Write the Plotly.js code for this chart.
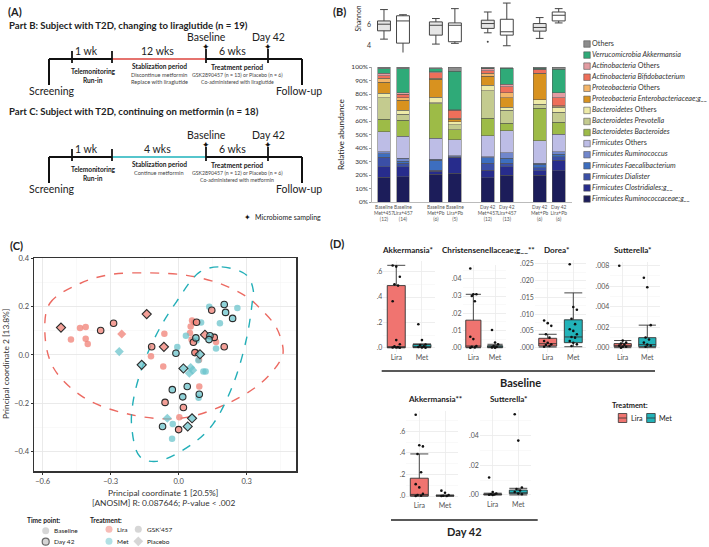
<!DOCTYPE html>
<html><head><meta charset="utf-8">
<script src="https://cdn.plot.ly/plotly-3.0.1.min.js"></script>
<style>html,body{margin:0;padding:0;background:#fff}#chart{width:709px;height:547px}</style>
</head><body><div id="chart"></div>
<script>
// ---------------- DATA ----------------
// Panel B: stacked relative abundance (%), 8 groups
const groupLabels = ["Baseline<br>Met+457<br>(12)","Baseline<br>Lira+457<br>(14)","Baseline<br>Met+Pb<br>(6)","Baseline<br>Lira+Pb<br>(5)",
                     "Day 42<br>Met+457<br>(12)","Day 42<br>Lira+457<br>(13)","Day 42<br>Met+Pb<br>(6)","Day 42<br>Lira+Pb<br>(6)"];
const ruminococcaceae = [18.3,18.7,20.7,21.3,17.8,20.0,20.0,23.2];
const clostridiales   = [7.9,7.4,1.9,11.3,5.9,6.1,3.0,7.9];
const dialister       = [7.0,2.5,1.1,0.5,5.0,2.5,2.2,2.4];
const faecalibacterium= [2.4,1.7,7.4,0.5,3.9,3.7,2.6,2.0];
const ruminococcus    = [1.7,2.0,0.7,0.5,1.0,4.1,0.9,1.7];
const firmicutesOther = [14.8,16.5,15.3,11.9,15.3,16.3,16.5,13.1];
const bacteroides     = [9.2,11.9,25.8,7.4,13.1,5.5,24.2,8.7];
const prevotella      = [16.0,4.2,0.6,4.0,20.4,9.9,3.0,7.4];
const bacteroidetesOther = [3.3,3.2,4.0,2.2,4.2,2.0,3.2,3.7];
const enterobacteriaceae = [8.1,7.4,13.3,1.7,6.7,7.1,19.3,0.5];
const proteobacteriaOther= [3.0,1.7,0.7,0.8,2.0,3.7,0.5,0.7];
const bifidobacterium = [2.0,2.5,4.2,5.7,1.9,4.4,2.4,5.9];
const actinobacteriaOther=[1.8,1.2,0.7,0.5,1.5,2.0,0.5,3.7];
const akkermansia     = [3.2,17.8,2.2,28.4,0.3,11.6,0.7,17.3];
const others          = [1.2,1.0,1.0,3.2,1.0,0.7,0.7,1.5];

// Shannon box stats per group
const shQ1 = [5.37,4.2,4.96,4.33,5.6,4.96,5.34,6.31];
const shMed= [6.0,6.31,5.9,5.9,6.06,5.28,5.69,6.85];
const shQ3 = [6.31,6.8,6.22,6.12,6.38,6.47,6.06,7.16];
const shLo = [4.58,2.95,4.11,4.18,5.18,3.95,4.65,6.12];
const shHi = [7.39,6.9,6.54,7.48,7.16,8.01,6.63,7.48];
const shOutlierGroup = [4];
const shOutlierVal = [4.33];

// Panel C: PCoA
const liraBaseGskX=[-0.475,-0.435,-0.41,-0.41,-0.401,-0.063,-0.122,-0.068,0.059,0.069,0.053,0.05,0.057,0.079,0.09,0.091,0.003,0.165];
const liraBaseGskY=[0.064,0.112,0.116,0.067,0.046,0.088,-0.005,-0.048,0.143,0.135,0.118,0.091,0.064,0.01,-0.02,-0.131,-0.259,0.054];
const liraBasePbX=[-0.251]; const liraBasePbY=[0.087];
const liraD42GskX=[-0.287,-0.344,-0.119,-0.06,0.021,0.0,0.065,0.072,0.079,0.157,0.146,0.201];
const liraD42GskY=[0.132,0.102,0.034,-0.197,-0.218,-0.31,0.053,0.01,0.136,0.073,0.186,0.034];
const liraD42PbX=[-0.519,-0.141,-0.065,0.116]; const liraD42PbY=[0.114,0.17,0.034,0.084];
const metBaseGskX=[0.135,0.259,0.182,0.099,0.032,-0.006,0.079,0.165,0.109,0.119,0.088,-0.026,-0.029,0.087];
const metBaseGskY=[0.2,0.195,0.132,0.135,0.08,0.033,0.06,0.027,-0.069,-0.069,-0.178,-0.287,-0.348,-0.022];
const metBasePbX=[-0.262,0.053,0.047,0.062,-0.05]; const metBasePbY=[0.014,-0.052,-0.076,-0.063,-0.263];
const metD42GskX=[0.201,0.207,0.238,0.138,0.134,0.076,-0.012,-0.028,0.038,0.018,0.091,-0.071];
const metD42GskY=[0.21,0.177,0.152,0.08,0.064,0.071,0.007,-0.144,-0.131,-0.174,-0.163,-0.297];
const metD42PbX=[-0.163,0.021,0.094,0.059,0.04]; const metD42PbY=[-0.041,-0.056,0.003,-0.263,-0.297];
const liraEllX=[-0.590,-0.568,-0.435,-0.303,-0.127,0.035,0.181,0.300,0.359,0.432,0.461,0.447,0.359,0.181,-0.002,-0.229,-0.421,-0.553];
const liraEllY=[0.092,0.215,0.297,0.334,0.341,0.331,0.297,0.242,0.194,0.112,0.016,-0.025,-0.120,-0.216,-0.264,-0.244,-0.175,-0.052];
const metEllX=[0.094,0.190,0.300,0.329,0.325,0.300,0.241,0.153,0.064,-0.097,-0.171,-0.207,-0.200,-0.156,-0.083,-0.009];
const metEllY=[0.345,0.366,0.331,0.270,0.222,0.071,-0.120,-0.285,-0.367,-0.442,-0.422,-0.299,-0.189,-0.038,0.112,0.222];

// Panel D: box stats [lowerfence,q1,median,q3,upperfence] and points
const dTitles = ["Akkermansia*","Christensenellaceae;g__**","Dorea*","Sutterella*","Akkermansia**","Sutterella*"];
const dLiraStats = [[0,0,0.003,0.49,0.65],[0,0.0003,0.001,0.016,0.031],[0.0002,0.0005,0.0012,0.0028,0.004],[0,0.0001,0.0002,0.0004,0.0007],[0,0,0.015,0.165,0.39],[0,0.0002,0.0004,0.0007,0.0012]];
const dMetStats  = [[0,0.002,0.008,0.025,0.03],[0,0.0002,0.0005,0.0012,0.002],[0.0003,0.0015,0.0032,0.0083,0.0163],[0,0.0001,0.0003,0.00098,0.0022],[0,0,0.002,0.005,0.01],[0,0.0008,0.0015,0.0033,0.0045]];
const dLiraPts = [[0.648,0.64,0.56,0.50,0.49,0.366,0.06,0.027,0.01,0.004,0.002,0.001,0],
                  [0.046,0.031,0.031,0.030,0.027,0.0064,0.005,0.001,0.0005,0.0002,0],
                  [0.0081,0.0073,0.0065,0.004,0.003,0.002,0.0015,0.001,0.0008,0.0005,0.0003],
                  [0.008,0.0007,0.0005,0.0004,0.0003,0.0002,0.0001,0.0001,0],
                  [0.753,0.47,0.46,0.39,0.22,0.11,0.08,0.02,0.01,0.003,0],
                  [0.0118,0.002,0.001,0.0005,0.0003,0.0001,0]];
const dMetPts  = [[0.185,0.06,0.025,0.02,0.01,0.005,0.002,0],
                  [0.0103,0.003,0.002,0.001,0.0005,0.0002,0],
                  [0.0248,0.0121,0.0113,0.0086,0.007,0.0055,0.005,0.004,0.0032,0.003,0.002,0.0015,0.001,0.0005],
                  [0.00683,0.0059,0.0022,0.001,0.0008,0.0005,0.0003,0.0002,0.0001],
                  [0.05,0.03,0.01,0.003,0.001,0],
                  [0.0545,0.0367,0.005,0.004,0.003,0.002,0.001,0.0005]];
const dTicks = [[0,0.2,0.4,0.6],[0,0.01,0.02,0.03,0.04],[0,0.005,0.01,0.015,0.02,0.025],[0,0.002,0.004,0.006,0.008],[0,0.2,0.4,0.6],[0,0.02,0.04]];
const dTickText = [[".0",".2",".4",".6"],[".00",".01",".02",".03",".04"],[".000",".005",".010",".015",".020",".025"],[".000",".002",".004",".006",".008"],[".0",".2",".4",".6"],[".00",".02",".04"]];

// ---------------- LAYOUT HELPERS ----------------
const W=709,H=547, FONT="Lato, 'Open Sans', sans-serif";
const fx=x=>x/W, fy=y=>1-y/H;
const annotations=[], shapes=[], traces=[];
function ann(text,x,y,size,o){annotations.push(Object.assign({text:text,x:fx(x),y:fy(y),xref:'paper',yref:'paper',showarrow:false,
  xanchor:'center',yanchor:'middle',font:{family:FONT,size:size,color:'#222'}},o||{}));}
function seg(x0,y0,x1,y1,color,w){shapes.push({type:'line',xref:'paper',yref:'paper',x0:fx(x0),y0:fy(y0),x1:fx(x1),y1:fy(y1),line:{color:color,width:w}});}

// ---------------- PANEL A (schematic) ----------------
ann("<b>(A)</b>",15,11,11);
const parts=[
 {title:"<b>Part B: Subject with T2D, changing to liraglutide (n = 19)</b>",ty:25.5,y0:59,col:'#E5736E',period:"12 wks",
  stab:["Discontinue metformin","Replace with liraglutide"],treat:["GSK2890457 (n = 13) or Placebo (n = 6)","Co-administered with liraglutide"]},
 {title:"<b>Part C: Subject with T2D, continuing on metformin (n = 18)</b>",ty:111,y0:157,col:'#56C5CC',period:"4 wks",
  stab:["Continue metformin"],treat:["GSK2890457 (n = 12) or Placebo (n = 6)","Co-administered with metformin"]}];
parts.forEach(p=>{
  const y0=p.y0;
  ann(p.title,7,p.ty,9.6,{xanchor:'left'});
  seg(49,y0,302,y0,'#111',2); seg(112,y0,206,y0,p.col,2);
  seg(49,y0,49,y0+26,'#111',2); seg(302,y0,302,y0+26,'#111',2);
  [72,112].forEach(x=>seg(x,y0-8,x,y0+4,'#111',1.8));
  [206,268].forEach(x=>{seg(x,y0-10,x,y0+4,'#111',1.8); ann("✦",x,y0-12,9,{font:{family:'DejaVu Sans',size:9,color:'#111'}});});
  ann("1 wk",86,y0-8,10.5); ann(p.period,157,y0-8,10.5); ann("6 wks",232,y0-8,10.5);
  ann("Baseline",206,y0-22,10.5); ann("Day 42",268,y0-22,10.5);
  ann("<b>Telemonitoring</b>",93,y0+12,6.6); ann("<b>Run-in</b>",93,y0+21,6.6);
  ann("<b>Stablization period</b>",159,y0+7,6.6);
  p.stab.forEach((t,i)=>ann(t,159,y0+15+i*7,5.6,{font:{family:FONT,size:5.6,color:'#444'}}));
  ann("<b>Treatment period</b>",237,y0+8,6.8);
  p.treat.forEach((t,i)=>ann(t,237,y0+16+i*7,5.2,{font:{family:FONT,size:5.2,color:'#444'}}));
  ann("Screening",52,y0+32,10.5); ann("Follow-up",299,y0+32,10.5);
});
ann("✦",247,217,8,{font:{family:'DejaVu Sans',size:8,color:'#111'}});
ann("Microbiome sampling",253,217,7,{xanchor:'left'});

// ---------------- PANEL B ----------------
ann("<b>(B)</b>",339,12,11);
const pos = groupLabels.map((_,i)=>Math.floor(i/2)*2.73+(i%2));
const taxa=[
 {n:"Firmicutes Ruminococcaceae;g__",l:"<i>Firmicutes Ruminococcaceae;g__</i>",v:ruminococcaceae,c:'#1C1D5A'},
 {n:"Firmicutes Clostridiales;g__",l:"<i>Firmicutes Clostridiales;g__</i>",v:clostridiales,c:'#272C8C'},
 {n:"Firmicutes Dialister",l:"<i>Firmicutes Dialister</i>",v:dialister,c:'#3B4FA6'},
 {n:"Firmicutes Faecalibacterium",l:"<i>Firmicutes Faecalibacterium</i>",v:faecalibacterium,c:'#3D6EBF'},
 {n:"Firmicutes Ruminococcus",l:"<i>Firmicutes Ruminococcus</i>",v:ruminococcus,c:'#7187CC'},
 {n:"Firmicutes Others",l:"<i>Firmicutes</i> Others",v:firmicutesOther,c:'#BDBDE6'},
 {n:"Bacteroidetes Bacteroides",l:"<i>Bacteroidetes Bacteroides</i>",v:bacteroides,c:'#9DBB47'},
 {n:"Bacteroidetes Prevotella",l:"<i>Bacteroidetes Prevotella</i>",v:prevotella,c:'#C4CB8F'},
 {n:"Bacteroidetes Others",l:"<i>Bacteroidetes</i> Others",v:bacteroidetesOther,c:'#EEEBA8'},
 {n:"Proteobacteria Enterobacteriaceae;g__",l:"<i>Proteobacteria Enterobacteriaceae;g__</i>",v:enterobacteriaceae,c:'#D8921F'},
 {n:"Proteobacteria Others",l:"<i>Proteobacteria</i> Others",v:proteobacteriaOther,c:'#F4B569'},
 {n:"Actinobacteria Bifidobacterium",l:"<i>Actinobacteria Bifidobacterium</i>",v:bifidobacterium,c:'#EE6F5A'},
 {n:"Actinobacteria Others",l:"<i>Actinobacteria</i> Others",v:actinobacteriaOther,c:'#E39CA2'},
 {n:"Verrucomicrobia Akkermansia",l:"<i>Verrucomicrobia Akkermansia</i>",v:akkermansia,c:'#2FAA78'},
 {n:"Others",l:"Others",v:others,c:'#8C8C8C'}];
taxa.forEach(t=>traces.push({type:'bar',x:pos,y:t.v,name:t.n,width:0.68,xaxis:'x2',yaxis:'y2',
  marker:{color:t.c,line:{color:'#555',width:0.5}},showlegend:false,hoverinfo:'name+y'}));
// Shannon boxes
[0,1].forEach(k=>{
  const idx=pos.map((_,i)=>i).filter(i=>i%2===k);
  traces.push({type:'box',xaxis:'x',yaxis:'y',x:idx.map(i=>pos[i]),q1:idx.map(i=>shQ1[i]),median:idx.map(i=>shMed[i]),
    q3:idx.map(i=>shQ3[i]),lowerfence:idx.map(i=>shLo[i]),upperfence:idx.map(i=>shHi[i]),width:0.68,whiskerwidth:0.6,
    fillcolor:k===0?'#e6e6e6':'#ffffff',line:{color:'#444',width:1},boxpoints:false,showlegend:false,hoverinfo:'skip'});
});
traces.push({type:'scatter',mode:'markers',xaxis:'x',yaxis:'y',x:shOutlierGroup.map(g=>pos[g]),y:shOutlierVal,
  marker:{size:2,color:'#444'},showlegend:false,hoverinfo:'skip'});
ann("Shannon",357.5,19,6.8,{textangle:-90});
ann("Relative abundance",341,135,8.3,{textangle:-90});
// custom legend (top to bottom)
const legOrder=taxa.slice().reverse();
traces.push({type:'scatter',mode:'markers+text',xaxis:'x10',yaxis:'y10',x:legOrder.map(()=>587),y:legOrder.map((_,i)=>44+i*11.07),
  text:legOrder.map(t=>t.l),textposition:'middle right',textfont:{family:FONT,size:7.2,color:'#333'},
  marker:{symbol:'square',size:6.5,color:legOrder.map(t=>t.c),line:{color:'#555',width:0.6}},showlegend:false,hoverinfo:'skip'});

// ---------------- PANEL C ----------------
ann("<b>(C)</b>",16,245,11);
const LIRA='rgba(240,128,118,0.75)', MET='rgba(108,196,204,0.75)';
function pc(x,y,col,sym,d42){traces.push({type:'scatter',mode:'markers',xaxis:'x3',yaxis:'y3',x:x,y:y,showlegend:false,hoverinfo:'x+y',
  marker:{size:sym==='diamond'?7:6.5,symbol:sym,color:col,line:{color:d42?'#2b2b2b':'rgba(0,0,0,0)',width:d42?1.1:0}}});}
traces.push({type:'scatter',mode:'lines',xaxis:'x3',yaxis:'y3',x:liraEllX.concat([liraEllX[0]]),y:liraEllY.concat([liraEllY[0]]),
  line:{color:'#EC6A62',width:1.4,dash:'dash',shape:'spline',smoothing:1},showlegend:false,hoverinfo:'skip'});
traces.push({type:'scatter',mode:'lines',xaxis:'x3',yaxis:'y3',x:metEllX.concat([metEllX[0]]),y:metEllY.concat([metEllY[0]]),
  line:{color:'#23AFB8',width:1.4,dash:'dash',shape:'spline',smoothing:1},showlegend:false,hoverinfo:'skip'});
pc(liraBaseGskX,liraBaseGskY,LIRA,'circle',false); pc(liraBasePbX,liraBasePbY,LIRA,'diamond',false);
pc(metBaseGskX,metBaseGskY,MET,'circle',false); pc(metBasePbX,metBasePbY,MET,'diamond',false);
pc(liraD42GskX,liraD42GskY,LIRA,'circle',true); pc(liraD42PbX,liraD42PbY,LIRA,'diamond',true);
pc(metD42GskX,metD42GskY,MET,'circle',true); pc(metD42PbX,metD42PbY,MET,'diamond',true);
ann("Principal coordinate 1 [20.5%]",163,493,8.4,{font:{family:FONT,size:8.4,color:'#333'}});
ann("[ANOSIM] R: 0.087646; <i>P</i>-value < .002",163,502.5,8.4,{font:{family:FONT,size:8.4,color:'#333'}});
ann("Principal coordinate 2 [13.8%]",6,364,8.4,{textangle:-90,font:{family:FONT,size:8.4,color:'#333'}});
// legend C
const GRAY='rgba(190,190,190,0.9)';
traces.push({type:'scatter',mode:'markers',xaxis:'x10',yaxis:'y10',x:[45.7,45.7,109,109,138.3,138.3],y:[530.7,541.7,529.3,541.3,529.3,541.3],
  marker:{size:[7,7,7,7,7,7.5],symbol:['circle','circle','circle','circle','circle','diamond'],color:[GRAY,GRAY,LIRA,MET,GRAY,GRAY],
  line:{color:['rgba(0,0,0,0)','#2b2b2b','rgba(0,0,0,0)','rgba(0,0,0,0)','rgba(0,0,0,0)','rgba(0,0,0,0)'],width:[0,1.2,0,0,0,0]}},showlegend:false,hoverinfo:'skip'});
ann("<b>Time point:</b>",25,520,6.6,{xanchor:'left'});
ann("Baseline",51.5,530.7,6.5,{xanchor:'left'}); ann("Day 42",51.5,541.7,6.5,{xanchor:'left'});
ann("<b>Treatment:</b>",88,519.5,6.6,{xanchor:'left'});
ann("Lira",115,529.3,6.5,{xanchor:'left'}); ann("Met",115,541.3,6.5,{xanchor:'left'});
ann("GSK’457",144.5,529.3,6.5,{xanchor:'left'}); ann("Placebo",144.5,541.3,6.5,{xanchor:'left'});

// ---------------- PANEL D ----------------
ann("<b>(D)</b>",337,244,11);
const LIRA_D='#F07470', MET_D='#22B3B9';
const dBox=[ // pixel geometry of each mini panel [x0,x1,yTop,yBottom]
 [383.4,434.8,261.2,351.8],[462.5,505.9,264.5,351.7],[534.9,586.1,260.1,351.9],[610.4,659.6,261.6,351.8],
 [406.45,457.85,410.7,500.1],[479.9,531.1,410.2,499.0]];
const dTitlePos=[[407,250],[488,250],[557,250],[633,250],[435,399],[509,399]];
const layoutD={};
dBox.forEach((b,k)=>{
  const n=k+4, ax='x'+n, ay='y'+n;
  const ticks=dTicks[k], step=ticks[1]-ticks[0];
  const allPts=dLiraPts[k].concat(dMetPts[k]), mx=Math.max.apply(null,allPts.concat([dLiraStats[k][4],dMetStats[k][4]]));
  const pad=mx*0.05;
  layoutD['xaxis'+n]={domain:[fx(b[0]),fx(b[1])],range:[-0.5,1.5],anchor:ay,tickvals:[0,1],ticktext:['Lira','Met'],
    showgrid:true,gridcolor:'#ebebeb',gridwidth:0.8,zeroline:false,showline:false,ticks:'',tickfont:{family:FONT,size:7,color:'#555'},fixedrange:true};
  layoutD['yaxis'+n]={domain:[fy(b[3]),fy(b[2])],range:[-pad,mx+pad],anchor:ax,tickvals:ticks,ticktext:dTickText[k],
    showgrid:true,gridcolor:'#ebebeb',gridwidth:0.8,zeroline:false,showline:false,ticks:'',tickfont:{family:FONT,size:7,color:'#555'},
    minor:{dtick:step/2,tick0:0,showgrid:true,gridcolor:'#f4f4f4',gridwidth:0.5},fixedrange:true};
  [[dLiraStats[k],LIRA_D,0],[dMetStats[k],MET_D,1]].forEach(s=>{
    traces.push({type:'box',xaxis:ax,yaxis:ay,x:[s[2]],lowerfence:[s[0][0]],q1:[s[0][1]],median:[s[0][2]],q3:[s[0][3]],upperfence:[s[0][4]],
      width:0.7,whiskerwidth:1,fillcolor:s[1],line:{color:'#333',width:0.9},boxpoints:false,showlegend:false,hoverinfo:'skip'});
  });
  [[dLiraPts[k],0],[dMetPts[k],1]].forEach(s=>{
    traces.push({type:'scatter',mode:'markers',xaxis:ax,yaxis:ay,x:s[0].map((_,i)=>s[1]+(((i*7)%5)-2)*0.07),y:s[0],
      marker:{size:2.6,color:'#111'},showlegend:false,hoverinfo:'y'});
  });
  ann("<b>"+dTitles[k]+"</b>",dTitlePos[k][0],dTitlePos[k][1],8.1);
});
seg(381.7,371,655,371,'#222',1.6); ann("<b>Baseline</b>",520,382,11);
seg(391,520,537.7,520,'#222',1.6); ann("<b>Day 42</b>",464,531,11);
// legend D
ann("<b>Treatment:</b>",610,405,7.4,{xanchor:'left'});
[[618.3,LIRA_D,'Lira',628.5],[646.7,MET_D,'Met',657]].forEach(k=>{
  shapes.push({type:'rect',xref:'paper',yref:'paper',x0:fx(k[0]),x1:fx(k[0]+8.5),y0:fy(422.5),y1:fy(413.5),fillcolor:k[1],line:{color:'#333',width:0.8}});
  seg(k[0],418,k[0]+8.5,418,'#333',0.8);
  ann(k[2],k[3],418,7.2,{xanchor:'left'});
});
traces.push({type:'scatter',mode:'markers',xaxis:'x10',yaxis:'y10',x:[622.5,651],y:[418,418],marker:{size:2.6,color:'#111'},showlegend:false,hoverinfo:'skip'});

// ---------------- LAYOUT ----------------
const layout=Object.assign({
  width:W,height:H,autosize:false,margin:{l:0,r:0,t:0,b:0},paper_bgcolor:'#fff',plot_bgcolor:'rgba(0,0,0,0)',
  font:{family:FONT,color:'#333'},barmode:'stack',showlegend:false,
  xaxis:{domain:[fx(372),fx(572)],range:[-0.63,9.89],visible:false,anchor:'y',fixedrange:true},
  yaxis:{domain:[fy(52.6),1],range:[3.3,8.3],anchor:'x',tickvals:[4,6,8],showgrid:false,zeroline:false,showline:false,ticks:'',
    tickfont:{family:FONT,size:7,color:'#333'},fixedrange:true},
  xaxis2:{domain:[fx(372),fx(572)],range:[-0.63,9.89],anchor:'y2',tickvals:pos,ticktext:groupLabels,showgrid:false,zeroline:false,
    showline:true,linecolor:'#aaa',linewidth:0.8,ticks:'',tickfont:{family:FONT,size:4.9,color:'#555'},tickangle:0,fixedrange:true},
  yaxis2:{domain:[fy(202),fy(67)],range:[0,100],anchor:'x2',dtick:10,ticksuffix:'%',showgrid:false,zeroline:false,showline:true,
    linecolor:'#999',linewidth:0.8,ticks:'outside',ticklen:2,tickcolor:'#999',tickfont:{family:FONT,size:6.5,color:'#333'},fixedrange:true},
  xaxis3:{domain:[fx(34),fx(296)],range:[-0.638,0.5176],anchor:'y3',tickvals:[-0.6,-0.3,0,0.3],ticktext:['−0.6','−0.3','0.0','0.3'],
    showgrid:true,gridcolor:'#e6e6e6',gridwidth:0.8,zeroline:false,showline:true,mirror:true,linecolor:'#333',linewidth:1.5,
    ticks:'outside',ticklen:2,tickcolor:'#333',tickfont:{family:FONT,size:7.5,color:'#4d4d4d'},
    minor:{dtick:0.15,tick0:-0.6,showgrid:true,gridcolor:'#f3f3f3',gridwidth:0.5},fixedrange:true},
  yaxis3:{domain:[fy(471),fy(258)],range:[-0.482,0.403],anchor:'x3',tickvals:[-0.4,-0.2,0,0.2,0.4],ticktext:['−0.4','−0.2','0.0','0.2','0.4'],
    showgrid:true,gridcolor:'#e6e6e6',gridwidth:0.8,zeroline:false,showline:true,mirror:true,linecolor:'#333',linewidth:1.5,
    ticks:'outside',ticklen:2,tickcolor:'#333',tickfont:{family:FONT,size:7.5,color:'#4d4d4d'},
    minor:{dtick:0.1,tick0:0,showgrid:true,gridcolor:'#f3f3f3',gridwidth:0.5},fixedrange:true},
  xaxis10:{domain:[0,1],range:[0,W],visible:false,anchor:'y10',fixedrange:true},
  yaxis10:{domain:[0,1],range:[H,0],visible:false,anchor:'x10',fixedrange:true},
  annotations:annotations,shapes:shapes
},layoutD);
Plotly.newPlot('chart',traces,layout,{staticPlot:true,displayModeBar:false});
</script></body></html>
